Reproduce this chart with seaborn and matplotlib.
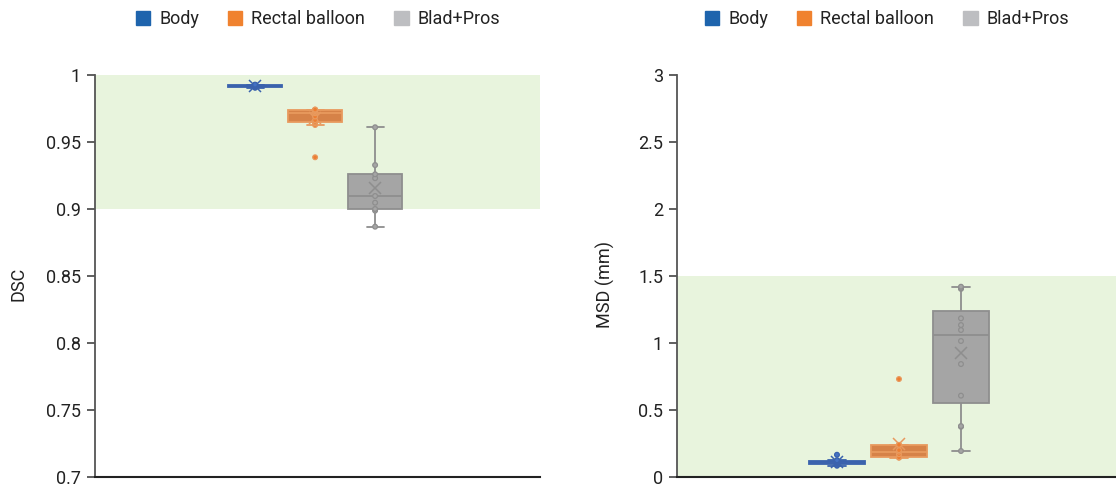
import numpy as np
import pandas as pd
import matplotlib
matplotlib.use("Agg")
import matplotlib.pyplot as plt
from matplotlib.patches import Patch
import seaborn as sns

sns.set_theme(style="white")
plt.rcParams['font.family'] = ['Roboto', 'DejaVu Sans']

groups = ["Body", "Rectal balloon", "Blad+Pros"]

# DSC values (left panel)
dsc_body = [0.9905, 0.9908, 0.9910, 0.9915, 0.9918, 0.9920, 0.9925, 0.9926, 0.9928]
dsc_rectal = [0.9386, 0.9627, 0.9640, 0.9650, 0.9663, 0.9690, 0.9715, 0.9720,
              0.9730, 0.9739, 0.9740, 0.9741, 0.9742]
dsc_bladpros = [0.8868, 0.8988, 0.9000, 0.9047, 0.9097, 0.9230, 0.9259, 0.9328, 0.9610]

# MSD values in mm (right panel)
msd_body = [0.084, 0.090, 0.098, 0.105, 0.110, 0.115, 0.122, 0.125, 0.166]
msd_rectal = [0.145, 0.146, 0.147, 0.170, 0.189, 0.200, 0.239, 0.240, 0.731]
msd_bladpros = [0.194, 0.375, 0.380, 0.607, 0.843, 1.015, 1.097, 1.134, 1.184,
                1.404, 1.410, 1.420]

dsc_ticks = [0.7, 0.75, 0.8, 0.85, 0.9, 0.95, 1]
dsc_ticklabels = ["0.7", "0.75", "0.8", "0.85", "0.9", "0.95", "1"]
msd_ticks = [0, 0.5, 1, 1.5, 2, 2.5, 3]
msd_ticklabels = ["0", "0.5", "1", "1.5", "2", "2.5", "3"]

fill_colors = {"Body": "#4472c4", "Rectal balloon": "#ed7d31", "Blad+Pros": "#a5a5a5"}
edge_colors = {"Body": "#3a62ad", "Rectal balloon": "#e89a5e", "Blad+Pros": "#8e8e8e"}
legend_colors = ["#1e64ad", "#f0822f", "#bdbec1"]
band_color = "#e8f4dd"


def make_df(values):
    rows = []
    for g, vals in zip(groups, values):
        for v in vals:
            rows.append({"group": g, "value": v})
    return pd.DataFrame(rows)


def draw_panel(ax, df, band, ylim, ticks, ticklabels, ylabel, half_span, shift, label_x):
    ax.axhspan(band[0], band[1], color=band_color, zorder=0, lw=0)
    for g in groups:
        sub = df[df["group"] == g]
        sns.boxplot(data=sub, x="group", y="value", order=groups, hue="group",
                    hue_order=groups, palette=fill_colors, dodge=False, width=0.9,
                    linecolor=edge_colors[g], linewidth=1.3, showfliers=False,
                    showmeans=True, capwidths=0.28,
                    meanprops=dict(marker="x", markeredgecolor=edge_colors[g],
                                   markersize=8, markeredgewidth=1.1),
                    legend=False, ax=ax, zorder=2)
        sns.stripplot(data=sub, x="group", y="value", order=groups, hue="group",
                      hue_order=groups, palette=fill_colors, dodge=False,
                      jitter=False, size=3.4, edgecolor=edge_colors[g],
                      linewidth=0.9, legend=False, ax=ax, zorder=3)
    ax.set_xlim(1 + shift - half_span, 1 + shift + half_span)
    ax.set_ylim(*ylim)
    ax.set_yticks(ticks)
    ax.set_yticklabels(ticklabels)
    ax.set_xticks([])
    ax.set_xlabel("")
    ax.set_ylabel(ylabel, fontsize=13, color="#222222")
    ax.yaxis.set_label_coords(label_x, 0.48)
    for s in ["top", "right"]:
        ax.spines[s].set_visible(False)
    ax.spines["left"].set_color("#555555")
    ax.spines["left"].set_linewidth(1.3)
    ax.spines["bottom"].set_color("#222222")
    ax.spines["bottom"].set_linewidth(1.5)
    ax.tick_params(axis="y", which="both", left=True, direction="out", length=6,
                   width=1.2, color="#444444", labelsize=13, labelcolor="#222222", pad=4)
    ax.set_facecolor("white")


fig = plt.figure(figsize=(11.16, 4.88), dpi=100)
ax1 = fig.add_axes([95 / 1116, 1 - 477 / 488, 445 / 1116, 402 / 488])
ax2 = fig.add_axes([677 / 1116, 1 - 477 / 488, 439 / 1116, 402 / 488])

draw_panel(ax1, make_df([dsc_body, dsc_rectal, dsc_bladpros]), (0.9, 1.0),
           (0.7, 1.0), dsc_ticks, dsc_ticklabels, "DSC", 445 / 60 / 2, 0.04, -0.151)
draw_panel(ax2, make_df([msd_body, msd_rectal, msd_bladpros]), (0, 1.5),
           (0, 3.0), msd_ticks, msd_ticklabels, "MSD (mm)", 439 / 62 / 2, -0.04, -0.142)

handles = [Patch(facecolor=c, edgecolor=c, label=g) for g, c in zip(groups, legend_colors)]
for cx in [318 / 1116, 887 / 1116]:
    fig.legend(handles=handles, loc="center", bbox_to_anchor=(cx, 1 - 19 / 488),
               ncol=3, frameon=False, fontsize=13, handlelength=0.8, handleheight=0.8,
               handletextpad=0.5, columnspacing=1.6, labelcolor="#222222")

fig.savefig("out.png", dpi=100)
